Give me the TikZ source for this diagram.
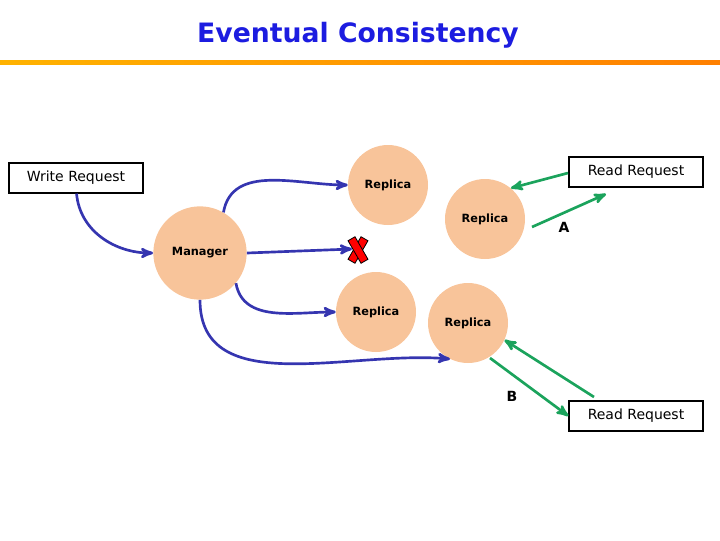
\documentclass[tikz,border=0pt]{standalone}
\usepackage{fontspec}
\setmainfont{DejaVu Sans}
\usetikzlibrary{arrows,positioning}
\definecolor{peach}{HTML}{F8C49A}
\definecolor{wblue}{HTML}{3535B0}
\definecolor{rgreen}{HTML}{1BA35C}
\definecolor{tblue}{HTML}{1C1CE0}
\tikzset{
  replica/.style={circle,fill=peach,minimum size=60pt,inner sep=0pt,font=\fontsize{8.5}{10}\selectfont\bfseries},
  request/.style={draw,line width=1.4pt,minimum width=100pt,minimum height=22pt,inner sep=0pt,font=\fontsize{10.5}{12}\selectfont},
  write/.style={->,>=stealth',line width=2pt,wblue},
  read/.style={->,>=stealth',line width=2pt,rgreen},
  letter/.style={font=\fontsize{10.5}{12}\selectfont\bfseries}
}
\begin{document}
\begin{tikzpicture}[x=0.75pt,y=-0.75pt]
  \useasboundingbox (0,0) rectangle (720,540);
  % title
  \node[font=\fontsize{20}{24}\selectfont\bfseries,text=tblue] (title) at (358,35) {Eventual Consistency};
  \shade[left color=orange!60!yellow,right color=orange] (0,60) rectangle (720,64);
  % nodes
  \node[replica,minimum size=70pt] (manager) at (200,253) {Manager};
  \node[replica] (rep1) at (388,185) {Replica};
  \node[replica] (rep2) at (485,219) {Replica};
  \node[replica] (rep3) at (376,312) {Replica};
  \node[replica] (rep4) at (468,323) {Replica};
  \node[request] (write) at (76,178) {Write Request};
  \node[request] (readA) at (636,172) {Read Request};
  \node[request] (readB) at (636,416) {Read Request};
  \coordinate (fail) at (352,249);
  \coordinate (hit4) at (450,359);
  \coordinate (outA) at (532,227);
  \coordinate (inA) at (568,173);
  \coordinate (backA) at (606,194);
  \coordinate (outB) at (490,358);
  \coordinate (inB) at (594,397);
  % failed replica
  \foreach \a in {60,-60}
    \draw[black,fill=red,line width=0.6pt,rotate around={\a:(358,250)}]
      (345,246) rectangle (371,254);
  % write propagation
  \draw[write] (write.-88) to[out=-85,in=180] (manager.west);
  \draw[write] (manager.60) to[out=80,in=180] (rep1.west);
  \draw[write] (manager.east) -- (fail);
  \draw[write] (manager.-40) to[out=-80,in=180] (rep3.west);
  \draw[write] (manager.-90) to[out=-90,in=175] (hit4);
  % reads
  \draw[read] (inA) -- (rep2.50);
  \draw[read] (outA) -- (backA);
  \draw[read] (outB) -- (readB.west);
  \draw[read] (inB) -- (rep4.-25);
  \node[letter] (labA) at (564,227) {A};
  \node[letter] (labB) at (512,396) {B};
\end{tikzpicture}
\end{document}
